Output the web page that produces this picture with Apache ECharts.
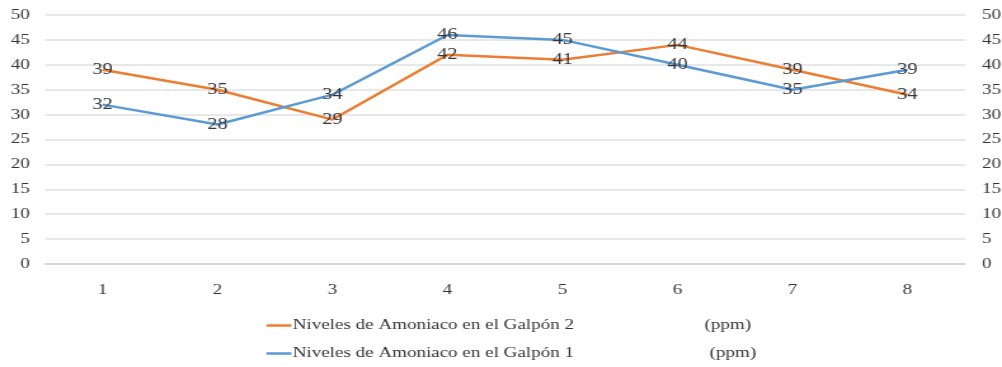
<!DOCTYPE html>
<html>
<head>
<meta charset="utf-8">
<script src="https://cdn.jsdelivr.net/npm/echarts@6/dist/echarts.min.js"></script>
<style>
  html, body { margin: 0; padding: 0; background: #fff; overflow: hidden; }
  #wrap { width: 1002px; height: 367px; overflow: hidden; }
  #chart { height: 367px; transform-origin: 0 0; }
</style>
</head>
<body>
<div id="wrap"><div id="chart"></div></div>
<script>
// Ammonia levels (ppm) in two poultry houses over 8 readings
const categories = ['1', '2', '3', '4', '5', '6', '7', '8'];
const galpon2 = [39, 35, 29, 42, 41, 44, 39, 34];
const galpon1 = [32, 28, 34, 46, 45, 40, 35, 39];
const seriesNames = ['Niveles de Amoniaco en el Galpón 2', 'Niveles de Amoniaco en el Galpón 1'];

// The figure is drawn in a narrower canvas and widened horizontally,
// giving the wide serif lettering of the original figure.
const STRETCH = 1.27;
const FULL_W = 1002;
const W = Math.round(FULL_W / STRETCH);
const u = px => px / STRETCH;   // convert a horizontal pixel distance to canvas units

const el = document.getElementById('chart');
el.style.width = W + 'px';
el.style.transform = 'scaleX(' + (FULL_W / W) + ')';

const FONT = '"Liberation Serif", "Times New Roman", serif';
const TEXT = '#353535';
const FS = 15;

const chart = echarts.init(el, null, { renderer: 'canvas', width: W, height: 367 });

function lineSeries(name, data, color) {
  return {
    name: name,
    type: 'line',
    data: data,
    symbol: 'circle',
    symbolSize: 0,
    showSymbol: true,
    lineStyle: { color: color, width: 2.5 },
    itemStyle: { color: color },
    label: {
      show: true,
      position: 'inside',
      color: TEXT,
      fontFamily: FONT,
      fontSize: FS + 1
    },
    emphasis: { disabled: true },
    animation: false
  };
}

chart.setOption({
  animation: false,
  grid: {
    left: u(45), right: u(37), top: 15, bottom: 103,
    outerBoundsMode: 'none'
  },
  legend: {
    orient: 'vertical',
    left: u(260),
    top: 313,
    itemGap: 13,
    icon: 'rect',
    itemWidth: u(25),
    itemHeight: 2.5,
    data: seriesNames,
    formatter: function (name) {
      return name === seriesNames[0]
        ? '{n|' + name + '}{u|(ppm)}'
        : '{m|' + name + '}{u|(ppm)}';
    },
    textStyle: {
      color: TEXT,
      fontFamily: FONT,
      fontSize: FS,
      padding: [0, 0, 0, -4],
      rich: {
        n: { width: u(412), fontFamily: FONT, fontSize: FS, color: TEXT },
        m: { width: u(417), fontFamily: FONT, fontSize: FS, color: TEXT },
        u: { fontFamily: FONT, fontSize: FS, color: TEXT }
      }
    }
  },
  xAxis: {
    type: 'category',
    data: categories,
    boundaryGap: true,
    axisLine: { show: true, lineStyle: { color: '#cfcfcf', width: 1.5 } },
    axisTick: { show: false },
    axisLabel: { color: TEXT, fontFamily: FONT, fontSize: FS, margin: 19 }
  },
  yAxis: [
    {
      type: 'value',
      min: 0, max: 50, interval: 5,
      axisLine: { show: false },
      axisTick: { show: false },
      splitLine: { lineStyle: { color: '#e0e0e0', width: 1.5 } },
      axisLabel: { color: TEXT, fontFamily: FONT, fontSize: FS, margin: u(15) }
    },
    {
      type: 'value',
      position: 'right',
      min: 0, max: 50, interval: 5,
      axisLine: { show: false },
      axisTick: { show: false },
      splitLine: { show: false },
      axisLabel: { color: TEXT, fontFamily: FONT, fontSize: FS, margin: u(17) }
    }
  ],
  series: [
    lineSeries(seriesNames[0], galpon2, '#ED7D31'),
    lineSeries(seriesNames[1], galpon1, '#5B9BD5')
  ]
});
</script>
</body>
</html>
